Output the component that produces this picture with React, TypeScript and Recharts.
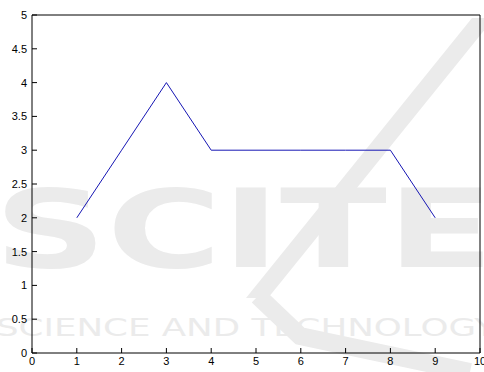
import { LineChart, Line, XAxis, YAxis } from 'recharts';

const xValues = [1, 2, 3, 4, 5, 6, 7, 8, 9];
const yValues = [2, 3, 4, 3, 3, 3, 3, 3, 2];
const xTicks = [0, 1, 2, 3, 4, 5, 6, 7, 8, 9, 10];
const yTicks = [0, 0.5, 1, 1.5, 2, 2.5, 3, 3.5, 4, 4.5, 5];

const data = xValues.map((x, i) => ({ x, y: yValues[i] }));

const tickFont = { fontFamily: 'Liberation Sans, Arial, sans-serif', fontSize: 11, fill: '#000' };
const axisStroke = { stroke: '#000', strokeWidth: 1 };

// faint publisher mark sitting behind the plot
function Watermark() {
  const fill = '#ebebeb';
  return (
    <svg width={484} height={372} style={{ position: 'absolute', left: 0, top: 0 }}>
      <polygon points="472,18 494,18 268,298 246,298" fill={fill} />
      <polyline points="258,296 300,336 470,372" fill="none" stroke={fill} strokeWidth={18} />
      <text
        x={-6}
        y={267}
        textLength={500}
        lengthAdjust="spacingAndGlyphs"
        fontFamily="DejaVu Sans, sans-serif"
        fontWeight="bold"
        fontSize={108}
        fill={fill}
      >
        SCITE
      </text>
      <text
        x={-4}
        y={336}
        textLength={500}
        lengthAdjust="spacingAndGlyphs"
        fontFamily="DejaVu Sans, sans-serif"
        fontSize={25}
        fill={fill}
      >
        SCIENCE AND TECHNOLOGY
      </text>
    </svg>
  );
}

export default function App() {
  return (
    <div style={{ position: 'absolute', left: 0, top: 0, width: 484, height: 372, background: '#fff' }}>
      <Watermark />
      <div style={{ position: 'absolute', left: 0, top: 0 }}>
        <LineChart width={484} height={372} data={data} margin={{ top: 0, right: 0, bottom: 0, left: 0 }}>
          <XAxis
            xAxisId="bottom"
            dataKey="x"
            type="number"
            domain={[0, 10]}
            ticks={xTicks}
            interval={0}
            height={19}
            tickSize={-5}
            tickMargin={9}
            tick={tickFont}
            axisLine={axisStroke}
            tickLine={axisStroke}
          />
          <XAxis
            xAxisId="top"
            orientation="top"
            dataKey="x"
            type="number"
            domain={[0, 10]}
            ticks={xTicks}
            interval={0}
            height={15}
            tickSize={-5}
            tick={false}
            axisLine={axisStroke}
            tickLine={axisStroke}
          />
          <YAxis
            yAxisId="left"
            type="number"
            domain={[0, 5]}
            ticks={yTicks}
            interval={0}
            width={32}
            tickSize={-5}
            tickMargin={10}
            tick={tickFont}
            axisLine={axisStroke}
            tickLine={axisStroke}
          />
          <YAxis
            yAxisId="right"
            orientation="right"
            type="number"
            domain={[0, 5]}
            ticks={yTicks}
            interval={0}
            width={4}
            tickSize={-5}
            tick={false}
            axisLine={axisStroke}
            tickLine={axisStroke}
          />
          <Line
            xAxisId="bottom"
            yAxisId="left"
            type="linear"
            dataKey="y"
            stroke="#1616b4"
            strokeWidth={1}
            dot={false}
            isAnimationActive={false}
          />
        </LineChart>
      </div>
    </div>
  );
}
